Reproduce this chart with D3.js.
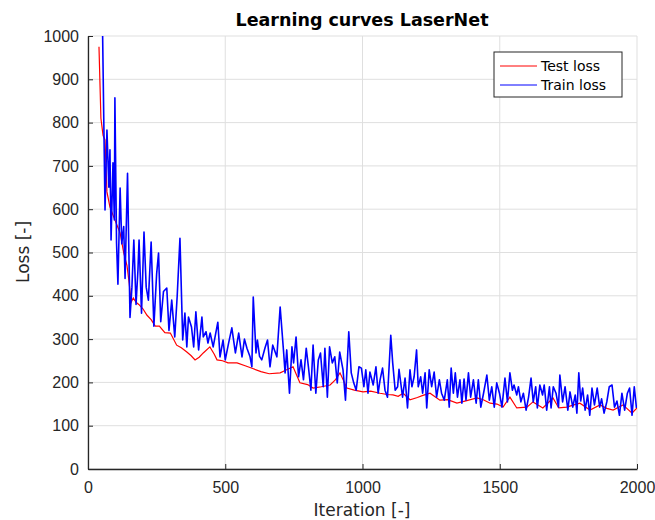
<!DOCTYPE html>
<meta charset="utf-8">
<style>
body { margin: 0; background: #fff; }
svg { font-family: "DejaVu Sans", sans-serif; }
.grid line { stroke: #dfdfdf; stroke-width: 1px; }
.axis path, .axis line { stroke: #262626; }
.axis text { fill: #262626; font-size: 16px; }
</style>
<svg width="655" height="520"></svg>
<script src="https://d3js.org/d3.v7.min.js"></script>
<script>

// test loss (red)
var testIter = [40,47,55,62,69,80,95,117,130,142,150,157,165,175,185,200,215,230,245,260,280,300,323,340,360,375,390,405,420,444,460,470,490,510,543,575,600,630,660,700,720,747,772,800,820,850,882,900,918,943,970,1002,1030,1064,1090,1111,1130,1148,1173,1200,1220,1246,1282,1310,1344,1380,1417,1440,1465,1490,1512,1537,1562,1599,1621,1657,1694,1715,1744,1770,1792,1829,1865,1890,1913,1949,1982,2000];
var testLoss = [975,810,770,760,640,605,580,545,500,470,430,385,395,385,380,370,355,345,330,330,315,314,286,280,270,262,252,258,268,282,265,252,250,245,245,238,232,225,220,222,228,236,199,195,187,190,194,205,222,187,182,178,180,175,172,171,168,175,160,165,170,175,159,160,152,158,164,160,152,150,143,166,141,143,155,141,164,141,143,148,152,136,148,140,136,148,129,141];

// train loss (blue)
var trainIter = [40,52,62,69,76,80,84,91,96,98,104,109,117,123,130,135,144,153,160,167,175,182,186,195,204,212,220,230,240,250,257,265,275,287,295,305,316,325,335,345,353,360,366,377,385,393,403,415,420,430,437,445,456,473,481,492,500,512,524,537,549,561,570,579,590,597,602,612,617,625,633,645,654,663,673,688,700,712,718,724,734,743,749,758,767,776,785,795,803,812,820,830,839,847,857,863,872,880,890,899,908,917,929,938,950,959,968,977,987,996,1005,1012,1020,1027,1039,1049,1057,1064,1073,1082,1091,1103,1110,1119,1128,1133,1146,1155,1164,1173,1180,1188,1197,1203,1212,1219,1228,1234,1243,1252,1261,1270,1280,1288,1298,1309,1316,1323,1331,1338,1346,1355,1362,1370,1377,1386,1394,1404,1414,1422,1431,1441,1453,1462,1471,1480,1489,1499,1508,1519,1528,1537,1546,1552,1562,1568,1577,1586,1596,1605,1614,1622,1631,1637,1646,1656,1662,1671,1681,1687,1695,1705,1714,1719,1729,1738,1748,1756,1766,1775,1781,1788,1795,1802,1811,1820,1828,1836,1845,1855,1864,1871,1880,1890,1899,1909,1918,1927,1936,1945,1955,1965,1973,1982,1990,1998];
var trainLoss = [1080,1060,598,783,651,737,529,707,575,857,522,427,649,520,560,440,683,350,420,529,380,460,529,360,547,420,390,524,330,450,499,340,410,418,320,390,305,400,533,298,360,282,351,328,282,363,275,351,305,317,291,314,282,339,259,298,252,290,326,268,314,259,300,279,260,236,397,268,298,260,252,280,298,236,286,259,374,275,222,275,175,282,245,305,213,252,206,279,236,182,286,175,252,268,190,279,166,282,245,259,199,270,229,159,317,222,199,182,236,233,190,229,175,224,194,236,175,206,233,182,166,309,245,182,190,230,166,210,141,229,190,213,275,190,213,175,222,141,229,190,224,166,206,175,159,206,143,233,175,222,166,206,152,208,159,222,166,206,152,206,143,175,217,159,190,143,199,175,143,210,155,222,182,194,171,190,155,175,136,166,210,155,190,141,194,171,194,136,190,141,190,175,143,217,155,190,136,178,143,171,129,222,157,187,136,171,124,187,148,187,143,162,129,155,190,194,143,157,124,175,136,175,187,124,190,141];

var xTicks = [0, 500, 1000, 1500, 2000];
var yTicks = [0, 100, 200, 300, 400, 500, 600, 700, 800, 900, 1000];

var svg = d3.select("svg"),
    pLeft = 88, pRight = 637, pTop = 36, pBottom = 469;

var x = d3.scaleLinear().domain([0, 2000]).range([pLeft, pRight]);
var y = d3.scaleLinear().domain([0, 1000]).range([pBottom, pTop]);

svg.append("rect").attr("width", 655).attr("height", 520).attr("fill", "#fff");

svg.append("clipPath").attr("id", "plot")
  .append("rect")
    .attr("x", pLeft).attr("y", pTop)
    .attr("width", pRight - pLeft).attr("height", pBottom - pTop);

// grid
var grid = svg.append("g").attr("class", "grid");
grid.selectAll(".gx").data(xTicks).enter().append("line")
    .attr("x1", function(d) { return x(d); }).attr("x2", function(d) { return x(d); })
    .attr("y1", pTop).attr("y2", pBottom);
grid.selectAll(".gy").data(yTicks).enter().append("line")
    .attr("y1", function(d) { return y(d); }).attr("y2", function(d) { return y(d); })
    .attr("x1", pLeft).attr("x2", pRight);

// lines
var test = testIter.map(function(d, i) { return [d, testLoss[i]]; });
var train = trainIter.map(function(d, i) { return [d, trainLoss[i]]; });

var line = d3.line()
    .x(function(d) { return x(d[0]); })
    .y(function(d) { return y(d[1]); });

var lines = svg.append("g").attr("clip-path", "url(#plot)");
lines.append("path").datum(test)
    .attr("fill", "none").attr("stroke", "#ff0000").attr("stroke-width", 1.2)
    .attr("d", line);
lines.append("path").datum(train)
    .attr("fill", "none").attr("stroke", "#0000ff").attr("stroke-width", 1.6)
    .attr("stroke-linejoin", "round")
    .attr("d", line);

// axes, ticks inside
svg.append("g").attr("class", "axis")
    .attr("transform", "translate(0," + pBottom + ")")
    .call(d3.axisBottom(x).tickValues(xTicks).tickFormat(d3.format("d"))
      .tickSizeInner(-5).tickSizeOuter(0).tickPadding(13))
    .call(function(g) { g.selectAll("text").attr("dy", "0.71em"); });

svg.append("g").attr("class", "axis")
    .attr("transform", "translate(" + pLeft + ",0)")
    .call(d3.axisLeft(y).tickValues(yTicks).tickFormat(d3.format("d"))
      .tickSizeInner(-5).tickSizeOuter(0).tickPadding(9));

svg.selectAll(".axis path").attr("stroke-width", 1.3);

// title + labels
svg.append("text")
    .attr("x", 362).attr("y", 26)
    .attr("text-anchor", "middle")
    .attr("font-size", "17.5px").attr("font-weight", "bold").attr("fill", "#000")
    .text("Learning curves LaserNet");

svg.append("text")
    .attr("x", 362).attr("y", 516)
    .attr("text-anchor", "middle")
    .attr("font-size", "17px").attr("fill", "#262626")
    .text("Iteration [-]");

svg.append("text")
    .attr("transform", "translate(29,252) rotate(-90)")
    .attr("text-anchor", "middle")
    .attr("font-size", "17px").attr("fill", "#262626")
    .text("Loss [-]");

// legend
var legend = svg.append("g");
legend.append("rect")
    .attr("x", 494).attr("y", 52).attr("width", 128).attr("height", 45)
    .attr("fill", "#fff").attr("stroke", "#262626").attr("stroke-width", 1);

var items = [["Test loss", "#ff0000"], ["Train loss", "#0000ff"]];
var li = legend.selectAll(".li").data(items).enter().append("g")
    .attr("transform", function(d, i) { return "translate(0," + (66 + i * 19) + ")"; });
li.append("line")
    .attr("x1", 500).attr("x2", 537)
    .attr("stroke", function(d) { return d[1]; }).attr("stroke-width", 1);
li.append("text")
    .attr("x", 541).attr("dy", "0.35em")
    .attr("font-size", "14px").attr("fill", "#000")
    .text(function(d) { return d[0]; });

</script>
